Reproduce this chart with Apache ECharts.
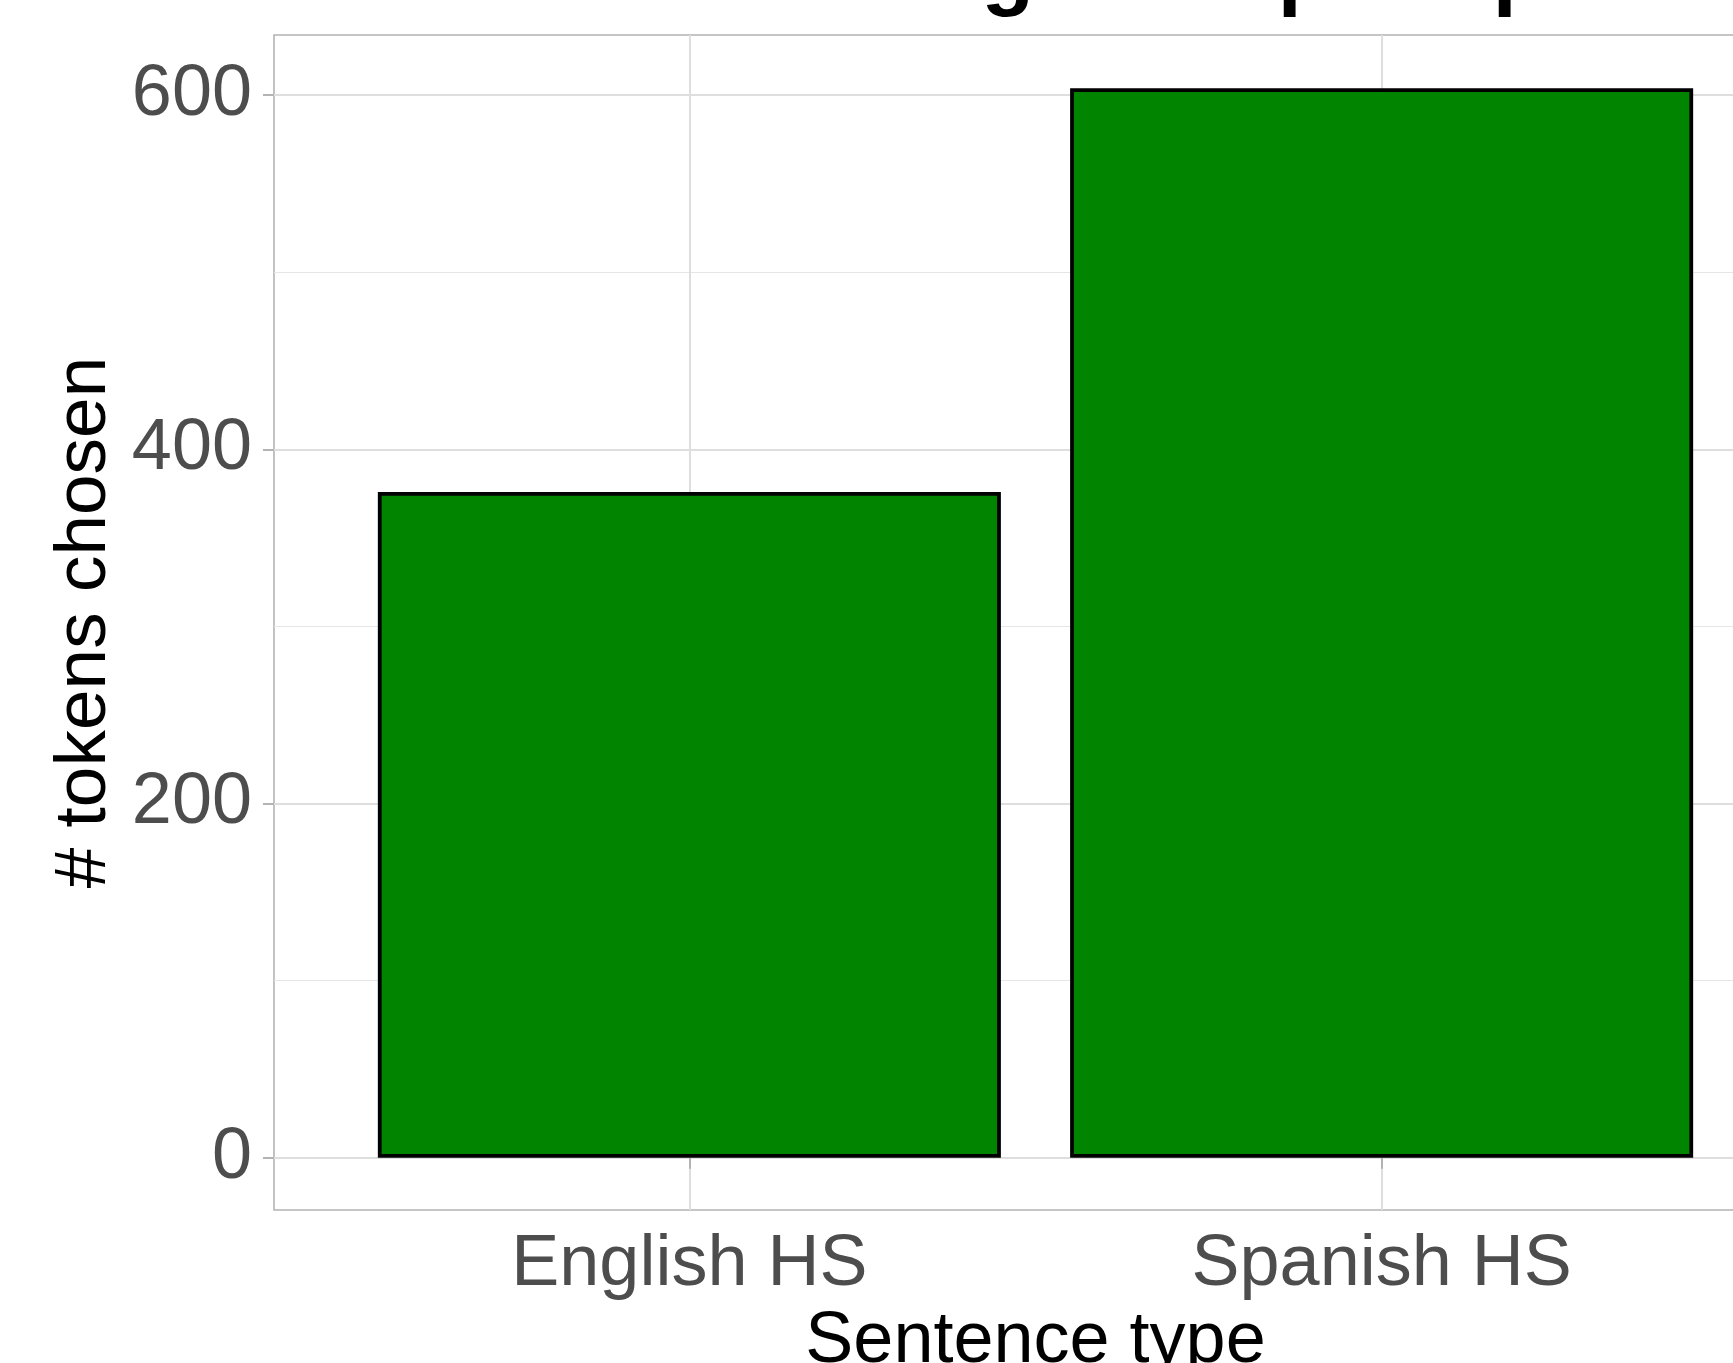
<!DOCTYPE html>
<html><head><meta charset="utf-8">
<script src="https://cdn.jsdelivr.net/npm/echarts@6/dist/echarts.min.js"></script>
<style>html,body{margin:0;padding:0;background:#fff;overflow:hidden}#c{width:1733px;height:1363px}</style>
</head><body><div id="c"></div>
<script>
// ---- data ----
const categories = ['English HS', 'Spanish HS'];
const tokensChosen = [376, 604];
const yTicks = [0, 200, 400, 600];
const yMinorTicks = [100, 300, 500];
const titleText = 'Tokens chosen following each prompt';
const xTitle = 'Sentence type';
const yTitle = '# tokens chosen';

// ---- layout ----
const W = 1733, H = 1363;
const gridLeft = 274, gridTop = 35, gridRight = -64, gridBottom = 153;
const gridWidth = W - gridLeft - gridRight;
const xMin = 0.4, xMax = 2.6;
const barWidthPx = gridWidth * 0.9 / (xMax - xMin);
const yMin = -29.5, yMax = 634;
const catPos = categories.map((c, i) => i + 1);
const FONT = "'Liberation Sans', Arial, Helvetica, sans-serif";
const gridCol = '#DEDEDE', tickCol = '#B3B3B3', textCol = '#4D4D4D';

const chart = echarts.init(document.getElementById('c'), null, {renderer: 'canvas'});
chart.setOption({
  backgroundColor: '#ffffff',
  animation: false,
  title: {
    text: titleText, left: 8, top: -73,
    textStyle: {fontFamily: FONT, fontSize: 86, fontWeight: 'bold', color: '#000', lineHeight: 86}
  },
  grid: {left: gridLeft, top: gridTop, right: gridRight, bottom: gridBottom,
    outerBoundsMode: 'none', containLabel: false,
    show: true, borderColor: tickCol, borderWidth: 1.6, backgroundColor: 'transparent'},
  xAxis: {
    type: 'value', min: xMin, max: xMax,
    name: xTitle, nameLocation: 'middle', nameGap: 92,
    nameTextStyle: {fontFamily: FONT, fontSize: 72, color: '#000', lineHeight: 72},
    axisLine: {show: false},
    axisTick: {show: true, customValues: catPos, length: 11, lineStyle: {color: tickCol, width: 2}},
    axisLabel: {show: true, customValues: catPos, margin: 19, fontFamily: FONT, fontSize: 72, color: textCol, lineHeight: 72,
      formatter: v => categories[Math.round(v) - 1] || ''},
    splitLine: {show: true, lineStyle: {color: gridCol, width: 2}}
  },
  yAxis: [{
    type: 'value', min: yMin, max: yMax,
    name: yTitle, nameLocation: 'middle', nameGap: 146, nameRotate: 90,
    nameTextStyle: {fontFamily: FONT, fontSize: 73, color: '#000', lineHeight: 73},
    axisLine: {show: false},
    axisTick: {show: true, customValues: yTicks, length: 11, lineStyle: {color: tickCol, width: 2}},
    axisLabel: {show: true, customValues: yTicks, margin: 22, fontFamily: FONT, fontSize: 72, color: textCol},
    splitLine: {show: true, lineStyle: {color: gridCol, width: 2}}
  }, {
    type: 'value', min: yMin, max: yMax, position: 'left',
    axisLine: {show: false},
    axisTick: {show: false, customValues: yMinorTicks},
    axisLabel: {show: false, customValues: yMinorTicks},
    splitLine: {show: true, lineStyle: {color: '#E6E6E6', width: 1.2}}
  }],
  series: [{
    type: 'bar',
    xAxisIndex: 0, yAxisIndex: 0,
    data: catPos.map((p, i) => [p, tokensChosen[i]]),
    barWidth: barWidthPx,
    itemStyle: {color: '#018501', borderColor: '#000', borderWidth: 3.8},
    z: 5
  }]
});
</script>
</body></html>
